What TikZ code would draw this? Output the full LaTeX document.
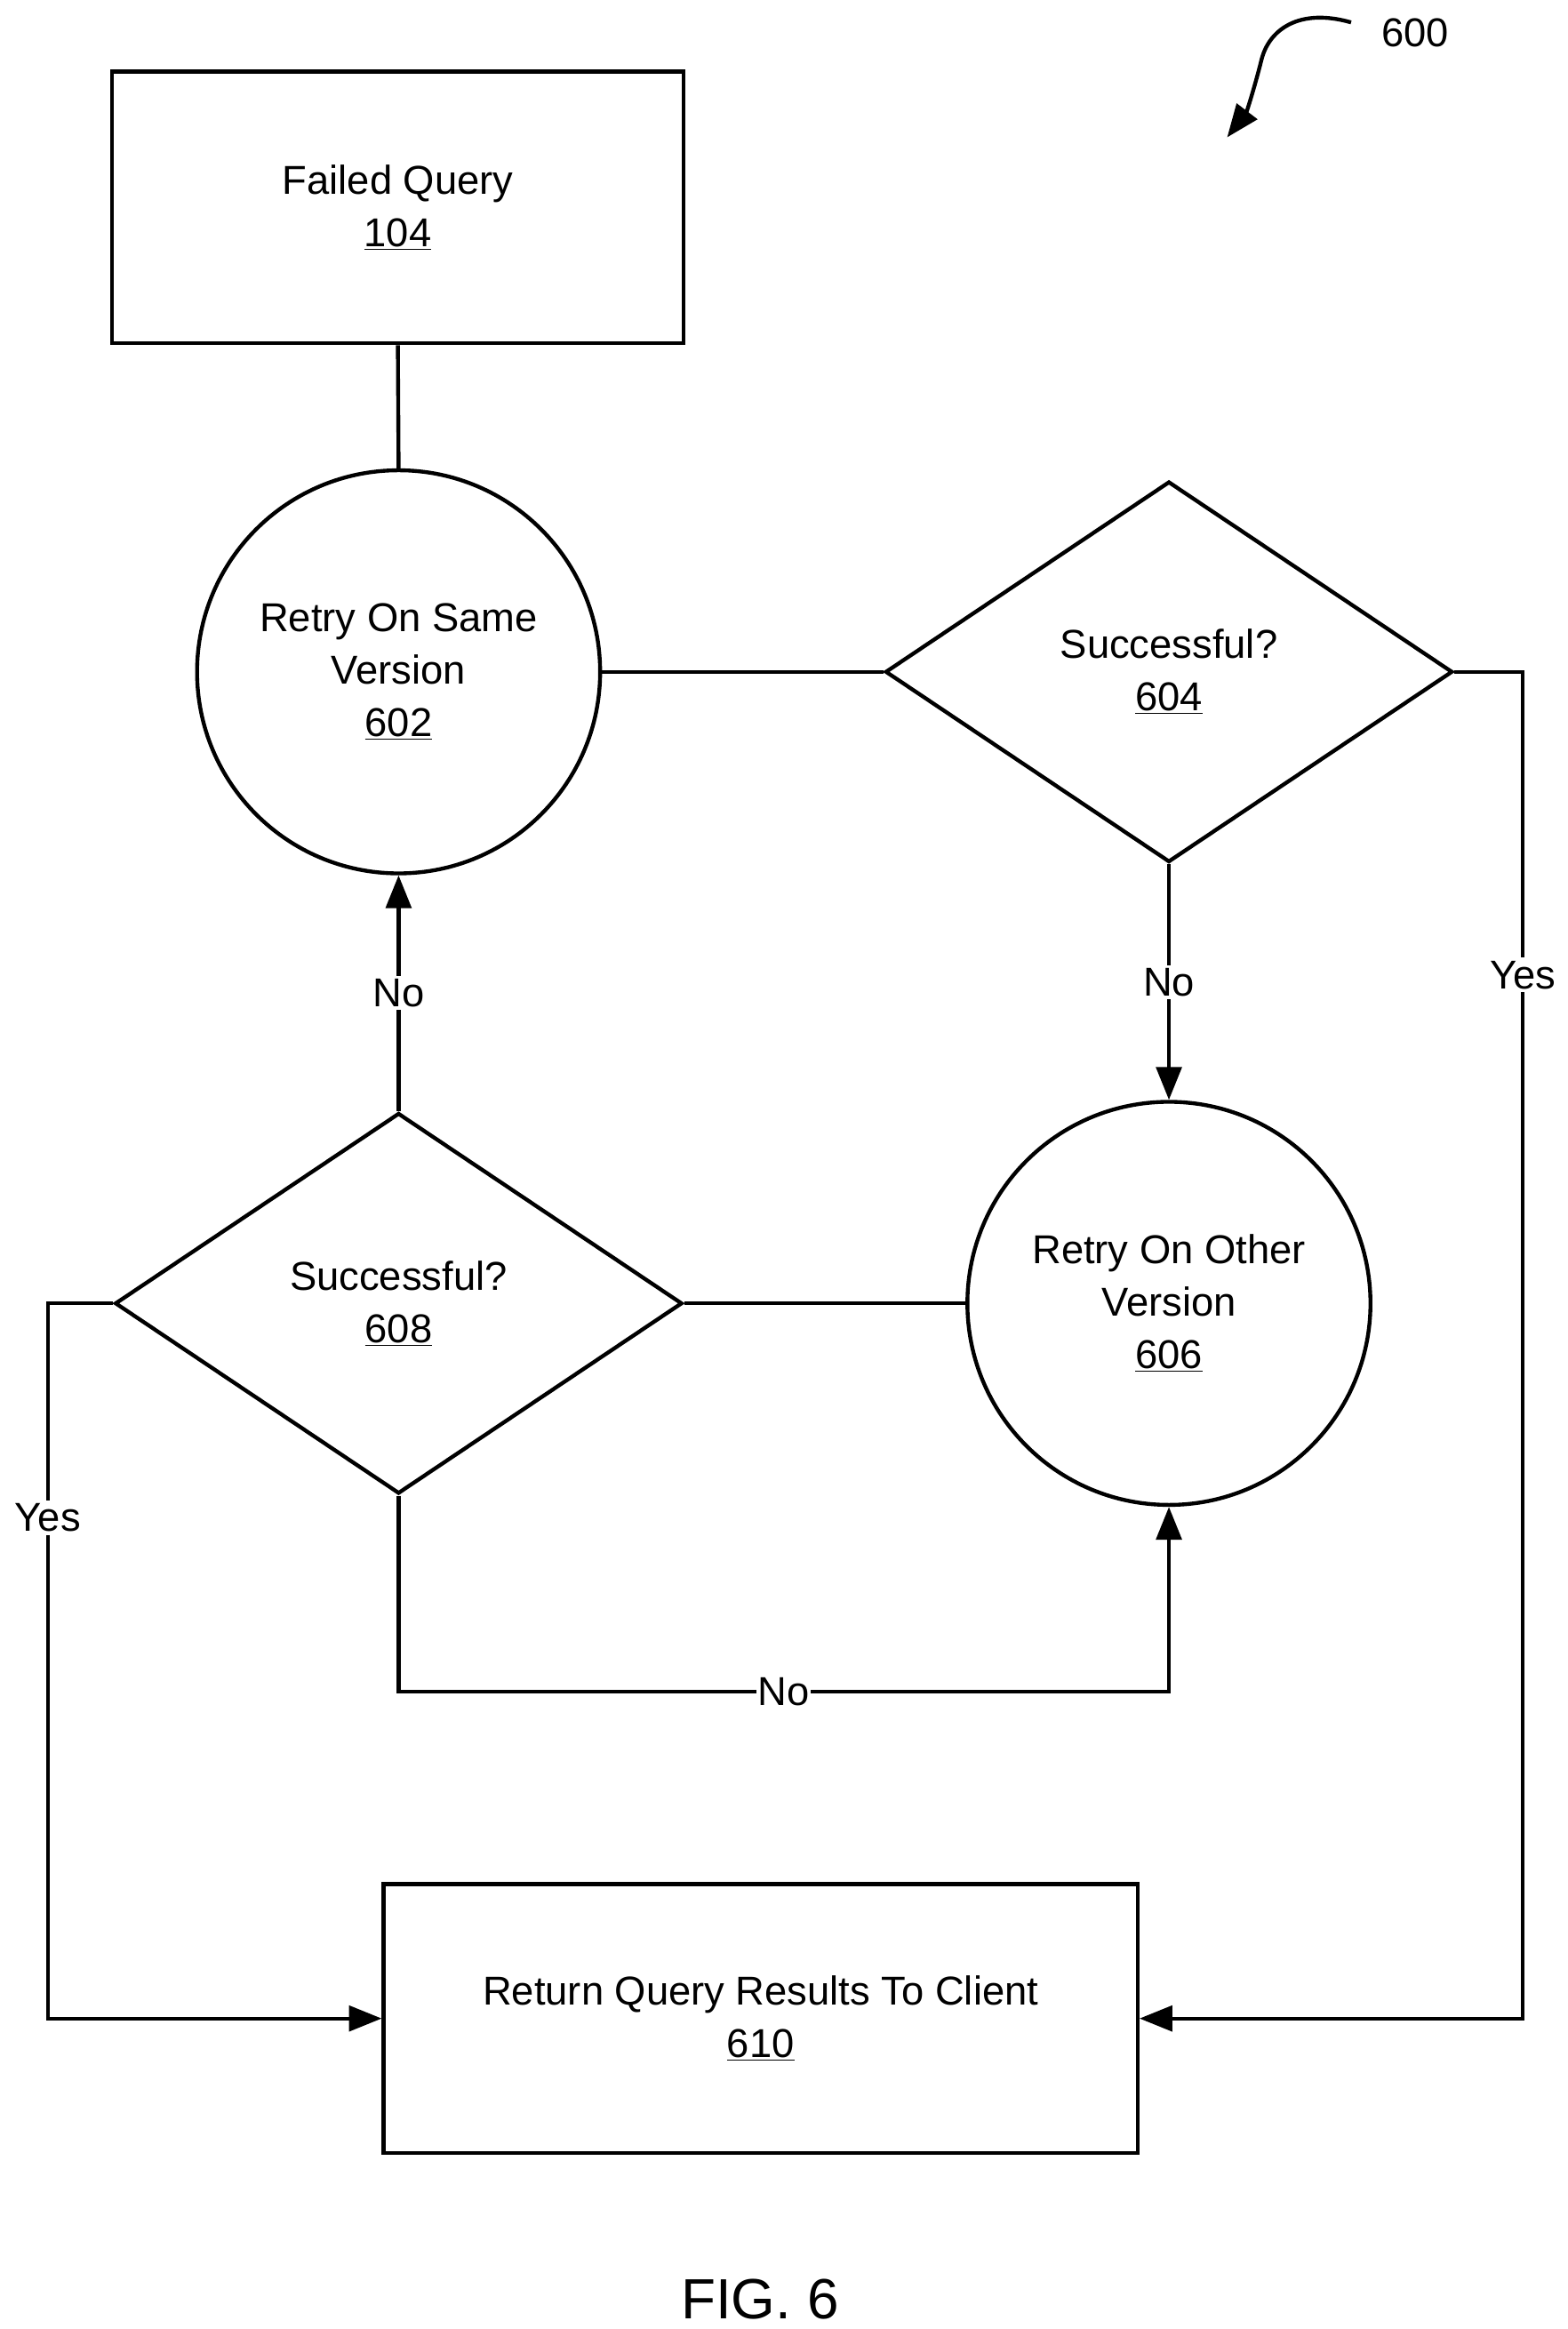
\documentclass[tikz,border=0pt]{standalone}
\usepackage{fontspec}
\setmainfont{Liberation Sans}
\usetikzlibrary{shapes.geometric,arrows.meta}
\begin{document}
\begin{tikzpicture}[x=1pt,y=-1pt,
  every node/.style={font=\fontsize{27}{35}\selectfont, align=center},
  ln/.style={line width=2.6pt},
  arr/.style={ln,-{Triangle[length=22pt,width=17pt]}},
  box/.style={draw,line width=2.6pt,rectangle,inner sep=0pt},
  circ/.style={draw,line width=2.6pt,circle,minimum size=270pt,inner sep=0pt},
  dia/.style={draw,line width=2.6pt,diamond,minimum width=380pt,minimum height=255pt,inner sep=0pt,aspect=1.49},
  lab/.style={fill=white,inner sep=2pt}]
\useasboundingbox (0,0) rectangle (1050,1560);
\node[box,minimum width=383pt,minimum height=182pt] (fq) at (266.5,139) {Failed Query\\\underline{104}};
\node[circ] (c602) at (267,450) {Retry On Same\\Version\\\underline{602}};
\node[dia] (d604) at (783,450) {Successful?\\\underline{604}};
\node[circ] (c606) at (783,873) {Retry On Other\\Version\\\underline{606}};
\node[dia] (d608) at (267,873) {Successful?\\\underline{608}};
\node[box,minimum width=505pt,minimum height=180pt] (r610) at (509.5,1352) {Return Query Results To Client\\\underline{610}};
\node (fig) at (509,1540) {\fontsize{38}{44}\selectfont FIG. 6};
\node (n600) at (948,22) {600};
\coordinate (s1) at (905,15);
\coordinate (s2) at (822,92);
\draw[ln,-{Triangle[length=22pt,width=17pt]}] (s1) .. controls (870,5) and (850,20) .. (845,40) .. controls (840,60) and (835,75) .. (s2);
\draw[ln] (fq.south) -- (c602.north);
\draw[ln] (c602.east) -- (d604.west);
\coordinate (a1) at (1020,450);
\coordinate (a2) at (1020,1352);
\draw[arr] (d604.east) -- (a1) -- node[lab,pos=0.225]{Yes} (a2) -- (r610.east);
\draw[arr] (d604.south) -- node[lab]{No} (c606.north);
\draw[ln] (d608.east) -- (c606.west);
\draw[arr] (d608.north) -- node[lab]{No} (c602.south);
\coordinate (b1) at (32,873);
\coordinate (b2) at (32,1352);
\draw[arr] (d608.west) -- (b1) -- node[lab,pos=0.3]{Yes} (b2) -- (r610.west);
\coordinate (e1) at (267,1133);
\coordinate (e2) at (783,1133);
\draw[arr] (d608.south) -- (e1) -- node[lab,inner sep=1pt]{No} (e2) -- (c606.south);
\end{tikzpicture}
\end{document}
